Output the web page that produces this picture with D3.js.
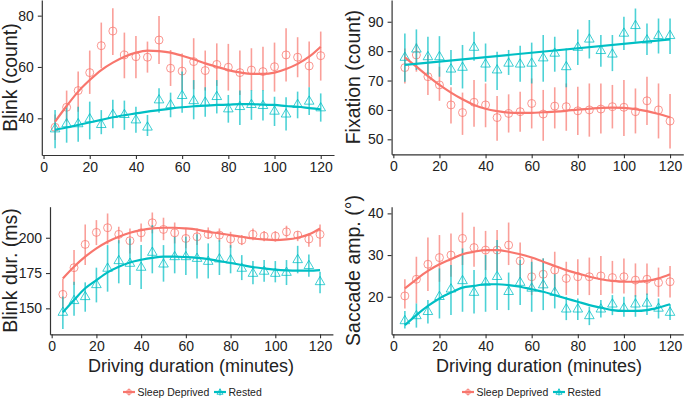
<!DOCTYPE html>
<html>
<head>
<meta charset="utf-8">
<script src="https://cdn.jsdelivr.net/npm/d3@7"></script>
<style>
  html, body { margin: 0; padding: 0; background: #fff; }
  svg { display: block; font-family: "Liberation Sans", Arial, sans-serif; }
</style>
</head>
<body>
<svg id="chart" width="685" height="400"></svg>
<script>
// ---------------- DATA ----------------
const minutes = [5,10,15,20,25,30,35,40,45,50,55,60,65,70,75,80,85,90,95,100,105,110,115,120];
const groups = ["Sleep Deprived", "Rested"];
const xTicks = [0,20,40,60,80,100,120];

// Panel 1: Blink (count)
const blinkSD    = [36.5,44.3,50.8,57.8,68.3,74.0,64.7,64.0,63.8,70.5,59.5,58.4,62.1,58.6,61.0,59.9,57.8,58.8,58.2,60.1,64.7,63.8,60.4,64.4];
const blinkSDLo  = [31.5,38.7,42.6,49.5,59.5,64.7,55.6,55.6,57.8,61.2,52.6,51.0,51.3,50.8,52.6,50.8,49.1,50.8,50.8,50.4,54.3,56.0,52.1,54.7];
const blinkSDHi  = [41.5,50.8,58.2,66.4,77.3,82.9,73.4,72.1,69.9,79.9,66.6,65.3,71.2,66.4,69.2,69.0,66.4,67.3,67.9,69.5,75.1,71.6,69.9,73.8];
const blinkR     = [36.1,38.1,38.1,40.0,37.8,41.7,41.7,39.6,36.8,47.4,45.5,49.1,47.1,46.5,48.7,43.9,44.8,45.6,45.2,43.0,41.9,45.6,46.9,44.3];
const blinkRLo   = [28.3,30.5,30.9,31.8,33.8,36.1,35.5,34.4,33.1,42.2,40.4,42.2,39.6,40.6,41.9,38.3,37.4,39.4,39.1,37.0,35.2,40.0,41.3,38.7];
const blinkRHi   = [43.2,44.8,44.5,46.5,43.2,47.2,46.9,44.5,41.3,51.7,50.0,58.2,54.9,52.1,54.9,49.1,50.8,51.0,51.0,48.4,48.2,50.4,52.1,49.7];
const blinkSDFit = [38.7,44.8,50.4,54.9,58.8,61.7,64.0,65.6,66.4,66.2,65.6,64.4,63.0,61.4,60.1,58.8,57.9,57.3,57.3,57.8,59.2,61.2,64.0,67.9];
const blinkRFit  = [35.5,36.4,37.4,38.4,39.4,40.4,41.2,41.9,42.6,43.2,43.8,44.3,44.7,44.9,45.2,45.3,45.5,45.5,45.3,45.2,44.8,44.5,44.0,43.5];
const blinkTicks = [40,60,80];

// Panel 2: Fixation (count)
const fixSD     = [74.4,78.7,71.3,68.5,61.7,59.1,62.6,61.7,57.4,58.8,59.4,62.2,58.6,61.3,61.1,59.7,60.0,60.3,61.1,60.9,59.4,63.1,60.0,56.2];
const fixSDLo   = [69.0,73.0,65.1,63.1,55.4,51.5,54.3,54.1,49.5,52.3,52.6,53.7,49.5,53.7,52.9,51.5,50.9,52.0,53.7,51.1,52.0,54.9,50.3,46.9];
const fixSDHi   = [80.9,82.6,78.7,74.7,67.7,65.9,70.2,69.0,64.7,65.3,66.2,70.7,66.8,67.7,69.0,67.9,69.0,69.0,68.5,70.2,67.3,71.3,69.0,65.4];
const fixR      = [78.1,80.9,78.3,78.3,74.1,74.7,81.5,75.8,73.8,76.1,75.8,76.1,77.9,79.5,74.9,81.5,84.3,80.4,79.2,86.3,88.9,84.0,85.5,85.5];
const fixRLo    = [69.6,73.6,71.9,71.3,68.5,67.3,76.7,69.6,66.8,71.9,69.6,69.0,69.6,73.0,67.7,75.3,77.5,74.7,73.2,80.4,83.2,78.7,79.2,79.0];
const fixRHi    = [86.0,87.4,84.9,85.1,80.4,82.1,86.6,82.6,79.8,80.4,81.8,82.9,85.5,84.9,80.9,87.4,90.6,85.5,85.5,91.7,94.5,89.4,91.1,91.1];
const fixSDFit  = [77.9,74.7,71.5,68.5,65.9,63.6,61.7,60.4,59.6,59.1,59.0,59.0,59.2,59.4,59.7,60.1,60.4,60.7,60.8,60.7,60.3,59.6,58.6,57.5];
const fixRFitX  = [5,120];
const fixRFit   = [75.3,84.0];
const fixTicks  = [50,60,70,80,90];

// Panel 3: Blink dur. (ms)
const durSD     = [159.9,178.8,195.3,203.8,207.1,202.4,197.9,203.5,210.6,205.9,203.5,199.5,200.7,202.4,201.9,199.1,198.3,202.4,201.2,201.2,204.2,201.9,199.1,202.4];
const durSDLo   = [150.0,166.5,180.7,194.8,195.3,196.0,188.9,197.2,203.1,198.3,196.0,192.5,194.8,199.1,197.2,192.9,194.8,198.3,197.6,197.2,200.0,197.6,193.6,193.6];
const durSDHi   = [171.0,191.3,209.4,212.5,217.2,207.8,206.6,210.1,217.9,214.2,210.8,206.6,206.6,207.3,206.6,204.2,201.9,206.6,204.7,204.7,208.5,204.7,203.1,209.4];
const durR      = [147.6,155.9,158.7,167.2,178.8,184.2,182.3,179.5,190.1,181.8,187.0,187.0,185.8,183.7,185.4,184.7,178.8,175.2,176.7,175.2,175.9,184.9,180.7,169.3];
const durRLo    = [135.4,144.8,147.6,154.2,161.8,167.7,166.5,163.7,174.8,168.9,174.8,173.6,171.2,171.2,173.6,174.8,170.0,167.0,168.9,168.4,166.5,174.8,172.4,160.6];
const durRHi    = [158.3,168.9,168.4,178.8,194.8,198.3,199.5,194.8,209.0,194.8,200.7,200.7,202.4,196.0,198.3,194.8,187.7,183.5,184.2,183.5,184.2,194.3,188.2,175.9];
const durSDFit  = [171.2,179.5,186.6,192.5,197.2,200.7,203.5,205.4,206.6,207.1,207.1,206.6,205.7,204.2,203.1,201.9,200.7,199.5,198.8,198.3,198.8,200.0,202.4,206.6];
const durRFit   = [147.2,155.9,164.2,170.0,175.5,179.5,182.5,184.4,185.8,186.6,186.6,186.3,185.8,184.9,183.5,182.1,180.7,179.2,178.3,177.4,176.9,176.7,176.7,177.1];
const durTicks  = [150,175,200];

// Panel 4: Saccade amp. (°)
const sacSD     = [20.2,24.2,27.8,29.4,30.0,34.0,31.8,31.2,31.2,32.4,28.6,24.8,25.4,26.4,24.4,24.8,24.8,25.0,24.6,24.8,24.0,24.2,23.4,23.6];
const sacSDLo   = [17.2,18.4,21.4,23.6,24.8,27.6,27.2,26.4,26.2,27.6,24.4,20.4,21.6,21.4,20.4,20.4,20.4,20.4,20.8,20.8,20.0,20.4,20.0,19.8];
const sacSDHi   = [24.2,29.6,34.2,34.8,35.2,40.2,36.8,35.8,36.0,37.8,33.0,29.2,29.2,30.8,28.4,29.0,29.4,29.8,28.6,29.2,28.0,28.0,27.0,27.4];
const sacR      = [14.4,15.6,16.6,20.2,22.0,24.0,21.2,23.6,25.0,21.4,23.6,22.2,23.0,21.2,17.2,17.2,15.6,17.2,18.4,17.4,18.4,18.6,17.4,16.4];
const sacRLo    = [12.4,12.6,13.6,14.8,15.6,16.4,16.0,16.4,16.8,16.8,18.0,16.4,16.8,17.2,14.4,14.4,13.2,15.0,15.6,15.2,15.2,15.6,14.8,14.4];
const sacRHi    = [16.6,18.4,19.2,26.8,27.6,31.6,26.4,30.0,33.6,25.8,28.8,28.4,29.2,25.4,20.0,19.6,17.6,19.2,20.4,20.0,20.4,20.8,19.6,18.2];
const sacSDFit  = [22.0,24.2,26.2,27.8,29.0,30.2,30.8,31.2,31.2,30.8,30.2,29.4,28.4,27.4,26.4,25.6,24.8,24.2,23.8,23.6,23.6,23.8,24.4,25.4];
const sacRFit   = [13.2,15.6,17.8,19.6,21.0,22.2,22.6,23.0,23.0,22.8,22.4,21.8,21.2,20.4,19.6,18.8,18.0,17.4,16.8,16.6,16.6,16.8,17.4,18.2];
const sacTicks  = [20,30,40];

// ---------------- STYLE ----------------
const RED = "#F8766D", TEAL = "#00BFC4";
const AXIS_COL = "#333333", TEXT_COL = "#222222";

const svg = d3.select("#chart");

function drawPanel(cfg) {
  const x = d3.scaleLinear().domain([-0.75, 125.75]).range([cfg.left, cfg.right]);
  const y = d3.scaleLinear().domain(cfg.yDomain).range([cfg.bottom, cfg.top]);
  const g = svg.append("g");

  // axes
  const xAxis = d3.axisBottom(x).tickValues(xTicks).tickSize(4).tickSizeOuter(0).tickPadding(3);
  const yAxis = d3.axisLeft(y).tickValues(cfg.yTicks).tickSize(4).tickSizeOuter(0).tickPadding(4);
  const gx = g.append("g").attr("transform", `translate(0,${cfg.bottom})`).call(xAxis);
  const gy = g.append("g").attr("transform", `translate(${cfg.left},0)`).call(yAxis);
  [gx, gy].forEach(a => {
    a.select(".domain").attr("stroke", AXIS_COL).attr("stroke-width", 1.2);
    a.selectAll(".tick line").attr("stroke", AXIS_COL).attr("stroke-width", 1.1);
    a.selectAll(".tick text").attr("fill", TEXT_COL).style("font-size", "14px")
      .style("font-family", "'Liberation Sans', Arial, sans-serif");
  });

  // y title
  g.append("text")
    .attr("transform", `translate(${cfg.titleX},${(cfg.top + cfg.bottom) / 2}) rotate(-90)`)
    .attr("text-anchor", "middle")
    .attr("fill", TEXT_COL)
    .style("font-size", "19.5px")
    .text(cfg.yTitle);

  // series
  cfg.series.forEach(s => {
    // error bars
    g.append("g").selectAll("line").data(minutes).join("line")
      .attr("x1", d => x(d)).attr("x2", d => x(d))
      .attr("y1", (d, i) => y(s.lo[i])).attr("y2", (d, i) => y(s.hi[i]))
      .attr("stroke", s.color).attr("stroke-width", 1.6).attr("stroke-opacity", 0.7);
    // points
    if (s.shape === "circle") {
      g.append("g").selectAll("circle").data(minutes).join("circle")
        .attr("cx", d => x(d)).attr("cy", (d, i) => y(s.mean[i])).attr("r", 4)
        .attr("fill", "none").attr("stroke", s.color).attr("stroke-width", 1).attr("stroke-opacity", 0.75);
    } else {
      const tri = d3.symbol().type(d3.symbolTriangle).size(40);
      g.append("g").selectAll("path").data(minutes).join("path")
        .attr("d", tri)
        .attr("transform", (d, i) => `translate(${x(d)},${y(s.mean[i]) + 0.8})`)
        .attr("fill", "none").attr("stroke", s.color).attr("stroke-width", 1).attr("stroke-opacity", 0.75);
    }
  });
  cfg.series.forEach(s => {
    const fx = s.fitX || minutes;
    const line = d3.line().x((d, i) => x(fx[i])).y(d => y(d)).curve(d3.curveMonotoneX);
    g.append("path").datum(s.fit).attr("d", line)
      .attr("fill", "none").attr("stroke", s.color).attr("stroke-width", 2.2);
  });
}

function drawXTitle(cx, baseline) {
  svg.append("text").attr("x", cx).attr("y", baseline).attr("text-anchor", "middle")
    .attr("fill", TEXT_COL).style("font-size", "18px").text("Driving duration (minutes)");
}

function drawLegend(x0, cy) {
  const lg = svg.append("g").attr("transform", `translate(${x0},${cy})`);
  const entries = [
    { label: groups[0], color: RED, shape: "circle", dx: 0 },
    { label: groups[1], color: TEAL, shape: "triangle", dx: 91 }
  ];
  entries.forEach(e => {
    const k = lg.append("g").attr("transform", `translate(${e.dx},0)`);
    k.append("line").attr("x1", 0).attr("x2", 12).attr("y1", 0).attr("y2", 0)
      .attr("stroke", e.color).attr("stroke-width", 2.2);
    k.append("line").attr("x1", 6).attr("x2", 6).attr("y1", -3.5).attr("y2", 3.5)
      .attr("stroke", e.color).attr("stroke-width", 1.4).attr("stroke-opacity", 0.7);
    if (e.shape === "circle") {
      k.append("circle").attr("cx", 6).attr("cy", 0).attr("r", 2.5)
        .attr("fill", "none").attr("stroke", e.color).attr("stroke-opacity", 0.8);
    } else {
      k.append("path").attr("d", d3.symbol().type(d3.symbolTriangle).size(16))
        .attr("transform", "translate(6,0.5)")
        .attr("fill", "none").attr("stroke", e.color).attr("stroke-opacity", 0.8);
    }
    k.append("text").attr("x", 14.5).attr("y", 0).attr("dy", "0.35em")
      .attr("fill", TEXT_COL).style("font-size", "10.5px").text(e.label);
  });
}

// ---------------- PANELS ----------------
drawPanel({
  left: 41.8, right: 334, top: 0, bottom: 155, yDomain: [25.7, 86.1], yTicks: blinkTicks,
  yTitle: "Blink (count)", titleX: 16.5,
  series: [
    { mean: blinkSD, lo: blinkSDLo, hi: blinkSDHi, fit: blinkSDFit, color: RED, shape: "circle" },
    { mean: blinkR, lo: blinkRLo, hi: blinkRHi, fit: blinkRFit, color: TEAL, shape: "triangle" }
  ]
});
drawPanel({
  left: 391.6, right: 683.3, top: 0, bottom: 154.3, yDomain: [44.9, 97.4], yTicks: fixTicks,
  yTitle: "Fixation (count)", titleX: 360,
  series: [
    { mean: fixSD, lo: fixSDLo, hi: fixSDHi, fit: fixSDFit, color: RED, shape: "circle" },
    { mean: fixR, lo: fixRLo, hi: fixRHi, fit: fixRFit, fitX: fixRFitX, color: TEAL, shape: "triangle" }
  ]
});
drawPanel({
  left: 50.0, right: 332.9, top: 206.7, bottom: 334.3, yDomain: [131.6, 222], yTicks: durTicks,
  yTitle: "Blink dur. (ms)", titleX: 16.5,
  series: [
    { mean: durSD, lo: durSDLo, hi: durSDHi, fit: durSDFit, color: RED, shape: "circle" },
    { mean: durR, lo: durRLo, hi: durRHi, fit: durRFit, color: TEAL, shape: "triangle" }
  ]
});
drawPanel({
  left: 391.6, right: 683.3, top: 206.7, bottom: 334.3, yDomain: [11.0, 41.6], yTicks: sacTicks,
  yTitle: "Saccade amp. (°)", titleX: 360,
  series: [
    { mean: sacSD, lo: sacSDLo, hi: sacSDHi, fit: sacSDFit, color: RED, shape: "circle" },
    { mean: sacR, lo: sacRLo, hi: sacRHi, fit: sacRFit, color: TEAL, shape: "triangle" }
  ]
});

drawXTitle(191, 372);
drawXTitle(539, 372);
drawLegend(123, 392);
drawLegend(462, 392);
</script>
</body>
</html>
